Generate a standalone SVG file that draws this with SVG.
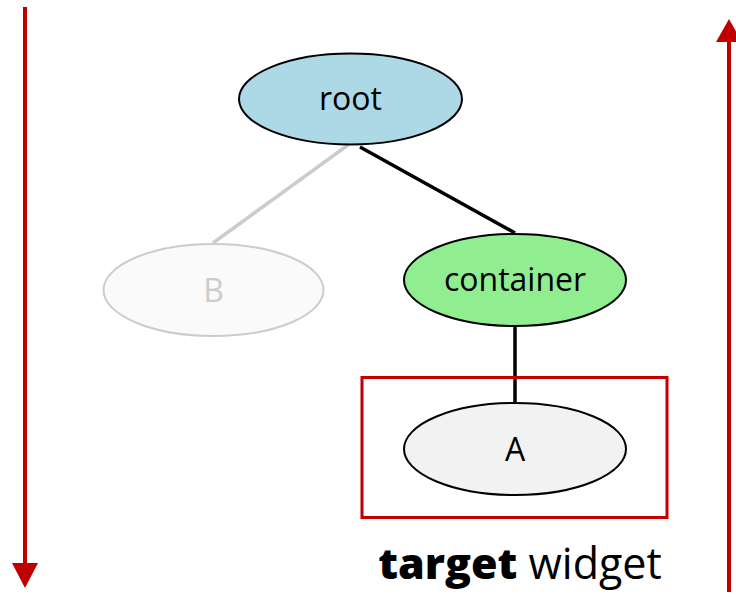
<svg xmlns="http://www.w3.org/2000/svg" width="736" height="599" viewBox="0 0 736 599">
  <style>
    .lbl { font-family: "Open Sans", "Liberation Sans", sans-serif; font-size: 32px; text-anchor: middle; dominant-baseline: central; fill: #000; }
    .node { stroke: #000; stroke-width: 2; }
    .edge { fill: none; stroke-width: 3.5; }
    .flow { stroke: #c00000; stroke-width: 4; fill: none; }
    .head { fill: #c00000; }
  </style>
  <rect width="736" height="599" fill="#fff"/>

  <!-- traversal arrows -->
  <g id="down-arrow">
    <line class="flow" x1="25" y1="7" x2="25" y2="566"/>
    <polygon class="head" points="12,563 38,563 25,588"/>
  </g>
  <g id="up-arrow">
    <line class="flow" x1="729" y1="592" x2="729" y2="40"/>
    <polygon class="head" points="716,42 742,42 729,19"/>
  </g>

  <!-- connectors -->
  <g id="connectors">
    <line class="edge" stroke="#cccccc" x1="348" y1="145" x2="213" y2="243"/>
    <line class="edge" stroke="#000" x1="360" y1="147" x2="515" y2="233"/>
    <line class="edge" stroke="#000" x1="515" y1="326" x2="515" y2="403"/>
  </g>

  <g id="root">
    <ellipse class="node" cx="350.5" cy="99" rx="111.5" ry="45.5" fill="#add8e6"/>
    <text class="lbl" x="350.5" y="97">root</text>
  </g>

  <g id="B">
    <ellipse cx="213.5" cy="290" rx="110" ry="46" fill="#fafafa" stroke="#cccccc" stroke-width="2"/>
    <text class="lbl" x="213.5" y="289" style="fill:#cccccc">B</text>
  </g>

  <g id="container">
    <ellipse class="node" cx="515" cy="280" rx="111" ry="46" fill="#90ee90"/>
    <text class="lbl" x="515" y="278">container</text>
  </g>

  <g id="A">
    <ellipse class="node" cx="515" cy="449" rx="111" ry="46" fill="#f2f2f2"/>
    <text class="lbl" x="515" y="448">A</text>
  </g>

  <g id="target-frame">
    <rect x="362" y="377.5" width="305" height="140" fill="none" stroke="#c00000" stroke-width="3"/>
    <text x="520" y="579" font-family="'Open Sans', 'Liberation Sans', sans-serif" font-size="43" text-anchor="middle" fill="#000"><tspan font-weight="800">target</tspan> widget</text>
  </g>
</svg>
